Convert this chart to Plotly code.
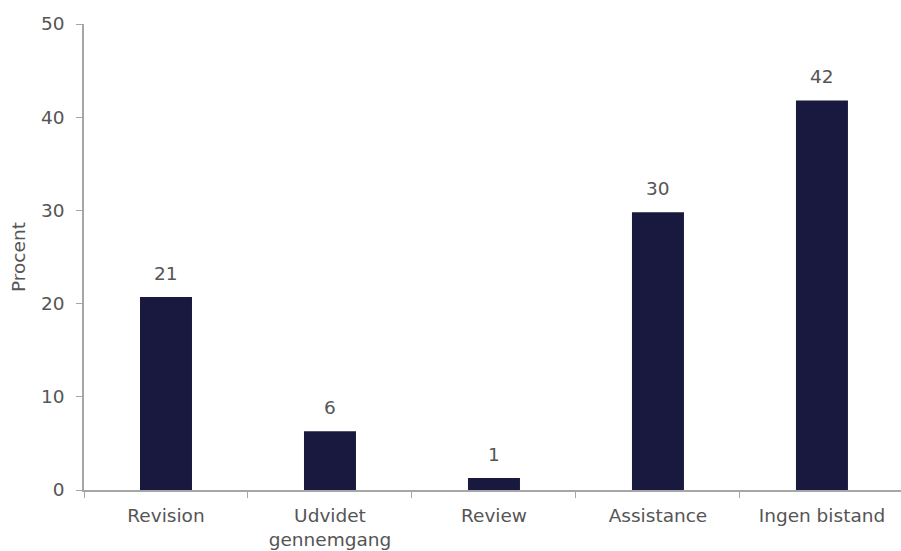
import plotly.graph_objects as go

# Share of companies by type of auditor involvement (percent)
categories = ["Revision", "Udvidet<br>gennemgang", "Review", "Assistance", "Ingen bistand"]
values = [20.7, 6.3, 1.3, 29.8, 41.8]

bar_color = "#19193f"
axis_color = "#a6a6a6"
text_color = "#555555"
font_family = "DejaVu Sans, sans-serif"
font_size = 18.5

fig = go.Figure()
fig.add_trace(go.Bar(
    x=categories,
    y=values,
    width=0.317,
    marker=dict(color=bar_color, line=dict(width=0)),
    hoverinfo="skip",
))

# value labels above each bar, rounded to whole percent
for cat, val in zip(categories, values):
    fig.add_annotation(
        x=cat, y=val, text=f"{round(val):d}",
        showarrow=False, yanchor="middle", yshift=23.5,
        font=dict(family=font_family, size=font_size, color=text_color),
    )

fig.add_annotation(
    xref="paper", yref="paper", x=-(84 - 18) / 817, y=0.5,
    text="Procent", textangle=-90, showarrow=False,
    xanchor="center", yanchor="middle",
    font=dict(family=font_family, size=font_size, color=text_color),
)

fig.update_layout(
    width=901, height=551,
    margin=dict(l=84, r=0, t=24, b=61),
    plot_bgcolor="white", paper_bgcolor="white",
    showlegend=False,
    font=dict(family=font_family, size=font_size, color=text_color),
    xaxis=dict(
        range=[-0.5, 4.482],
        showline=True, linecolor=axis_color, linewidth=1.5,
        ticks="outside", tickson="boundaries", ticklen=6, tickcolor=axis_color,
        ticklabelstandoff=8,
        showgrid=False, zeroline=False,
        tickfont=dict(family=font_family, size=font_size, color=text_color),
    ),
    yaxis=dict(
        range=[0, 50], dtick=10,
        showline=True, linecolor=axis_color, linewidth=1.5,
        ticks="outside", ticklen=6, tickcolor=axis_color,
        ticklabelstandoff=8,
        showgrid=False, zeroline=False,
        tickfont=dict(family=font_family, size=font_size, color=text_color),
    ),
)

fig.write_html("out.html")
